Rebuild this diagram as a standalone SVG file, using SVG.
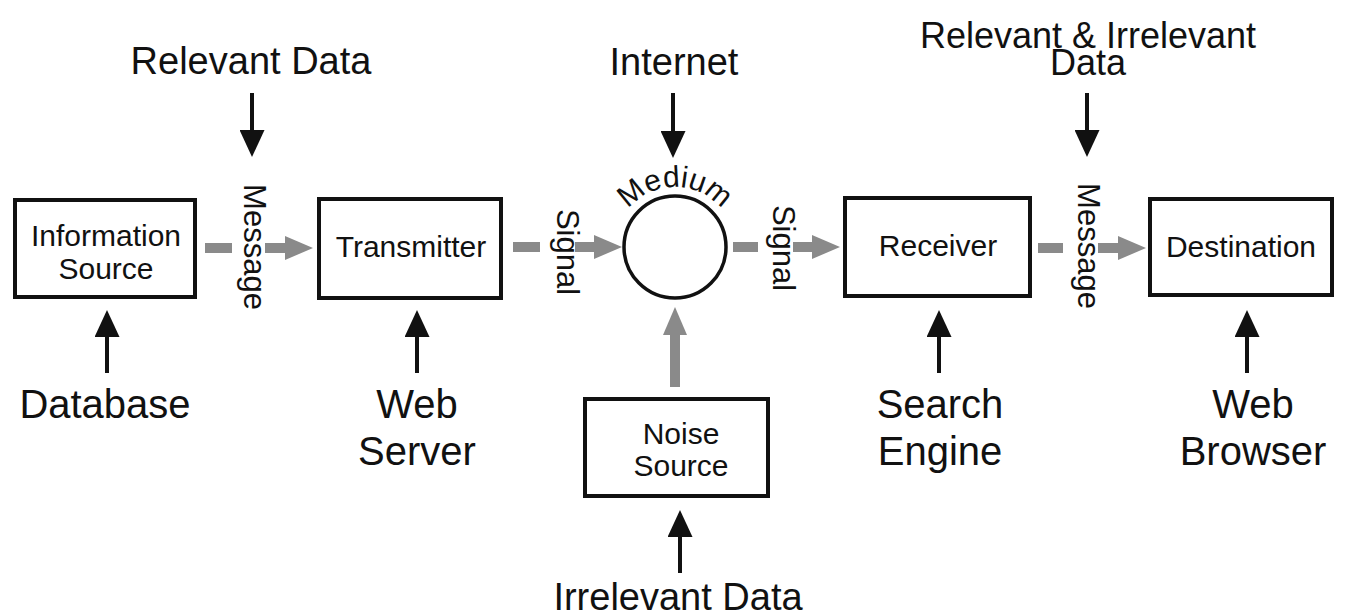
<svg xmlns="http://www.w3.org/2000/svg" width="1345" height="616" viewBox="0 0 1345 616">
<style>
text{font-family:"Liberation Sans",Arial,sans-serif;fill:#111}
.lbl{font-size:39px;text-anchor:middle}
.box{font-size:30px;text-anchor:middle}
.vt{font-size:31px;text-anchor:middle}
.node{fill:#fff;stroke:#111;stroke-width:4}
.g{stroke:#8a8a8a;stroke-width:10;fill:none}
.b{stroke:#111;stroke-width:4;fill:none}
</style>
<defs>
<marker id="gh" markerUnits="userSpaceOnUse" markerWidth="28" markerHeight="24" viewBox="0 0 28 24" refX="0" refY="12" orient="auto"><path d="M0,0 L28,12 L0,24 z" fill="#8a8a8a"/></marker>
<marker id="bh" markerUnits="userSpaceOnUse" markerWidth="27" markerHeight="25" viewBox="0 0 27 25" refX="0" refY="12.5" orient="auto"><path d="M0,0 L27,12.5 L0,25 z" fill="#111"/></marker>
<path id="arc" d="M615,247 A60,60 0 0 1 735,247"/>
</defs>
<rect width="1345" height="616" fill="#fff"/>

<g id="connectors">
<line class="g" x1="205" y1="248" x2="232" y2="248"/>
<line class="g" x1="265" y1="248" x2="285" y2="248" marker-end="url(#gh)"/>
<line class="g" x1="513" y1="247" x2="540" y2="247"/>
<line class="g" x1="575" y1="247" x2="594" y2="247" marker-end="url(#gh)"/>
<line class="g" x1="733" y1="247" x2="758" y2="247"/>
<line class="g" x1="793" y1="247" x2="812" y2="247" marker-end="url(#gh)"/>
<line class="g" x1="1038" y1="248" x2="1063" y2="248"/>
<line class="g" x1="1098" y1="248" x2="1118" y2="248" marker-end="url(#gh)"/>
<line class="g" x1="675" y1="387" x2="675" y2="335" marker-end="url(#gh)"/>
<line class="b" x1="252" y1="93" x2="252" y2="130" marker-end="url(#bh)"/>
<line class="b" x1="673" y1="93" x2="673" y2="131" marker-end="url(#bh)"/>
<line class="b" x1="1087" y1="93" x2="1087" y2="130" marker-end="url(#bh)"/>
<line class="b" x1="107" y1="373" x2="107" y2="337" marker-end="url(#bh)"/>
<line class="b" x1="417" y1="373" x2="417" y2="337" marker-end="url(#bh)"/>
<line class="b" x1="939" y1="373" x2="939" y2="337" marker-end="url(#bh)"/>
<line class="b" x1="1247" y1="373" x2="1247" y2="337" marker-end="url(#bh)"/>
<line class="b" x1="680" y1="573" x2="680" y2="537" marker-end="url(#bh)"/>
<text class="vt" transform="translate(244,247) rotate(90)">Message</text>
<text class="vt" transform="translate(557,252) rotate(90)">Signal</text>
<text class="vt" transform="translate(773,248) rotate(90)">Signal</text>
<text class="vt" transform="translate(1078,246) rotate(90)">Message</text>
</g>

<g id="info-source">
<rect class="node" x="15" y="200" width="180" height="97"/>
<text class="box" x="106" y="246">Information</text>
<text class="box" x="106" y="279">Source</text>
</g>
<g id="transmitter">
<rect class="node" x="319" y="199" width="182" height="99"/>
<text class="box" x="411" y="257">Transmitter</text>
</g>
<g id="medium">
<circle cx="675" cy="247" r="51" fill="#fff" stroke="#111" stroke-width="3.5"/>
<text style="font-size:30px"><textPath href="#arc" startOffset="50%" text-anchor="middle">Medium</textPath></text>
</g>
<g id="receiver">
<rect class="node" x="845" y="198" width="185" height="98"/>
<text class="box" x="938" y="256">Receiver</text>
</g>
<g id="destination">
<rect class="node" x="1150" y="199" width="182" height="96"/>
<text class="box" x="1241" y="257">Destination</text>
</g>
<g id="noise-source">
<rect class="node" x="585" y="399" width="183" height="97"/>
<text class="box" x="681" y="444">Noise</text>
<text class="box" x="681" y="476">Source</text>
</g>

<g id="relevant-data"><text class="lbl" x="251" y="74" style="font-size:38px">Relevant Data</text></g>
<g id="internet"><text class="lbl" x="674" y="75" style="font-size:38px">Internet</text></g>
<g id="rel-irrel-data">
<text class="lbl" x="1088" y="48" style="font-size:36px">Relevant &amp; Irrelevant</text>
<text class="lbl" x="1088" y="75" style="font-size:36px">Data</text>
</g>
<g id="database"><text class="lbl" x="105" y="418" style="font-size:40px">Database</text></g>
<g id="web-server">
<text class="lbl" x="417" y="418" style="font-size:40px">Web</text>
<text class="lbl" x="417" y="465" style="font-size:40px">Server</text>
</g>
<g id="search-engine">
<text class="lbl" x="940" y="418" style="font-size:40px">Search</text>
<text class="lbl" x="940" y="465" style="font-size:40px">Engine</text>
</g>
<g id="web-browser">
<text class="lbl" x="1253" y="418" style="font-size:40px">Web</text>
<text class="lbl" x="1253" y="465" style="font-size:40px">Browser</text>
</g>
<g id="irrelevant-data"><text class="lbl" x="678" y="610" style="font-size:38px">Irrelevant Data</text></g>
</svg>
